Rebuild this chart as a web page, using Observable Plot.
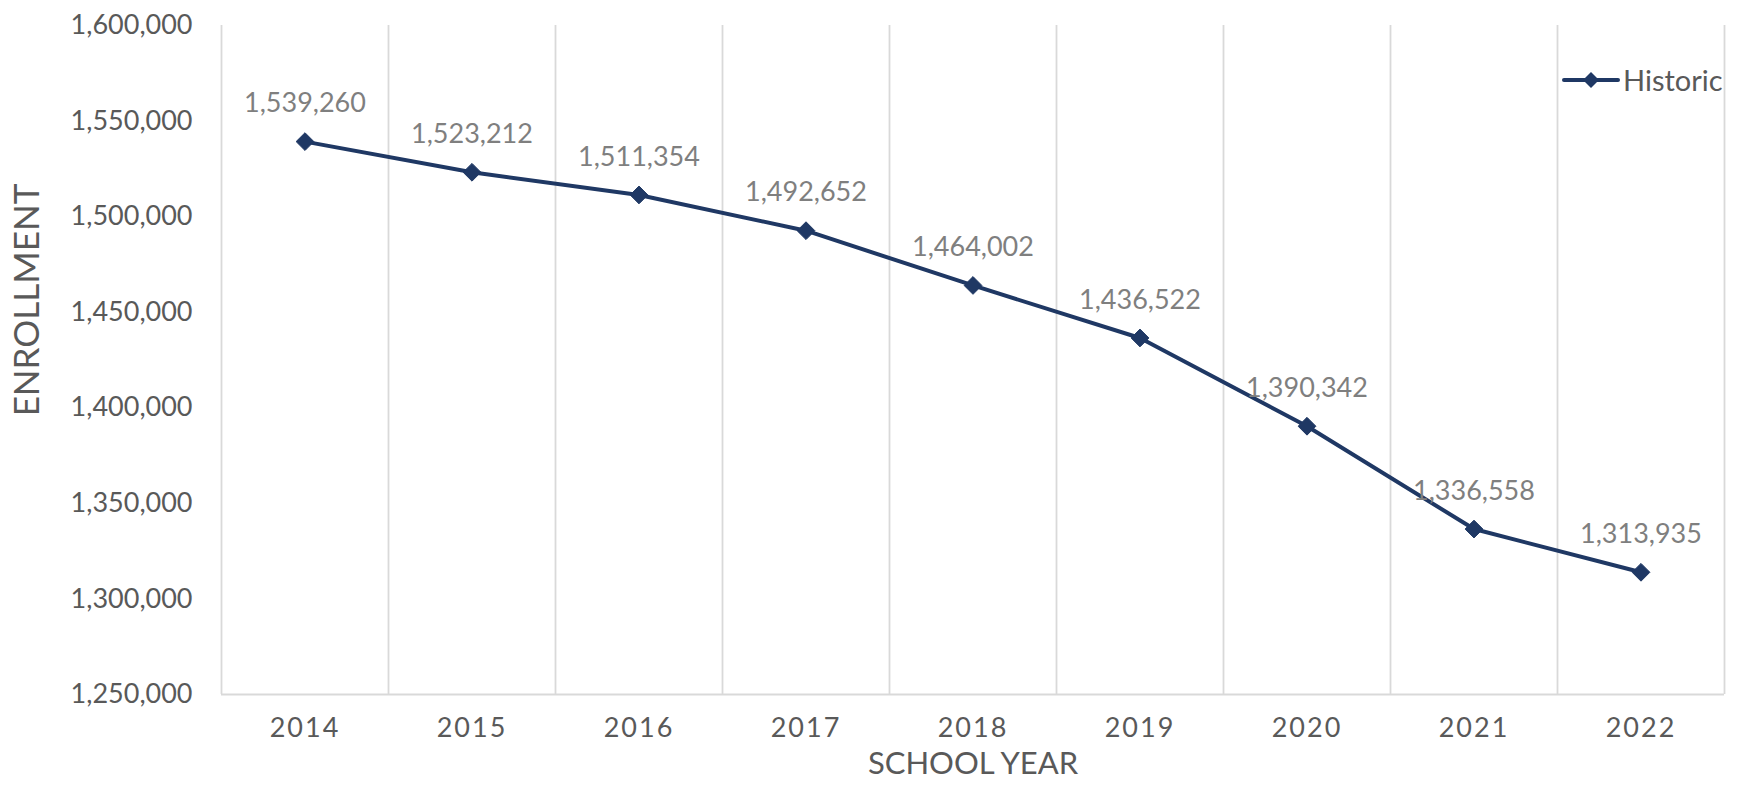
<!DOCTYPE html>
<html>
<head>
<meta charset="utf-8">
<script src="https://cdn.jsdelivr.net/npm/d3@7"></script>
<script src="https://cdn.jsdelivr.net/npm/@observablehq/plot@0.6"></script>
<style>
  html, body { margin: 0; padding: 0; background: #fff; }
  #wrap { position: relative; width: 1742px; height: 785px; font-family: "Gill Sans", "Gill Sans MT", Lato, sans-serif; }
  #wrap svg { display: block; }
  g[aria-label="x-axis tick label"] text { letter-spacing: 2px; }
  #legend { position: absolute; left: 1562px; top: 62px; display: flex; align-items: center; color: #595959; font-size: 29px; font-family: Lato, sans-serif; }
  #legend span { margin-left: 3px; line-height: 36px; }
</style>
</head>
<body>
<div id="wrap"></div>
<script>
const years = [2014, 2015, 2016, 2017, 2018, 2019, 2020, 2021, 2022];
const enrollment = [1539260, 1523212, 1511354, 1492652, 1464002, 1436522, 1390342, 1336558, 1313935];
const yTicks = [1250000, 1300000, 1350000, 1400000, 1450000, 1500000, 1550000, 1600000];
const seriesName = "Historic";
const xTitle = "SCHOOL YEAR";
const yTitle = "ENROLLMENT";

const navy = "#1f3864";
const grid = "#d9d9d9";
const data = years.map((year, i) => ({year, value: enrollment[i]}));
const boundaries = [years[0] - 0.5, ...years.map(y => y + 0.5)];
const fmt = d3.format(",");

const chart = Plot.plot({
  width: 1742,
  height: 785,
  marginLeft: 221,
  marginRight: 18,
  marginTop: 25,
  marginBottom: 91,
  style: {fontFamily: "Lato, sans-serif", background: "#fff"},
  x: {domain: [boundaries[0], boundaries[boundaries.length - 1]]},
  y: {domain: [yTicks[0], yTicks[yTicks.length - 1]]},
  marks: [
    Plot.ruleX(boundaries, {stroke: grid, strokeWidth: 1.8}),
    Plot.ruleY([yTicks[0]], {stroke: grid, strokeWidth: 2}),
    Plot.axisY({ticks: yTicks, tickFormat: fmt, tickSize: 0, tickPadding: 29, fontSize: 27, color: "#595959", label: null}),
    Plot.axisX({ticks: years, tickFormat: d => String(d), tickSize: 0, tickPadding: 23, fontSize: 27, color: "#595959", label: null}),
    Plot.line(data, {x: "year", y: "value", stroke: navy, strokeWidth: 4}),
    Plot.dot(data, {x: "year", y: "value", symbol: "diamond2", r: 8, fill: navy, stroke: navy, strokeWidth: 1}),
    Plot.text(data, {x: "year", y: "value", text: d => fmt(d.value), dy: -38, fill: "#7f7f7f", fontSize: 27}),
    Plot.text([xTitle], {frameAnchor: "bottom", dy: 79, fill: "#595959", fontSize: 31}),
    Plot.text([yTitle], {frameAnchor: "left", rotate: -90, dx: -194, dy: -60, fill: "#595959", fontSize: 35, textAnchor: "middle"})
  ]
});

const wrap = document.getElementById("wrap");
wrap.appendChild(chart);

const legend = document.createElement("div");
legend.id = "legend";
legend.innerHTML = `<svg width="58" height="20" viewBox="0 0 58 20"><line x1="2" y1="10" x2="56" y2="10" stroke="${navy}" stroke-width="4" stroke-linecap="round"/><path d="M29,2 L37,10 L29,18 L21,10 Z" fill="${navy}"/></svg><span>${seriesName}</span>`;
wrap.appendChild(legend);
</script>
</body>
</html>
